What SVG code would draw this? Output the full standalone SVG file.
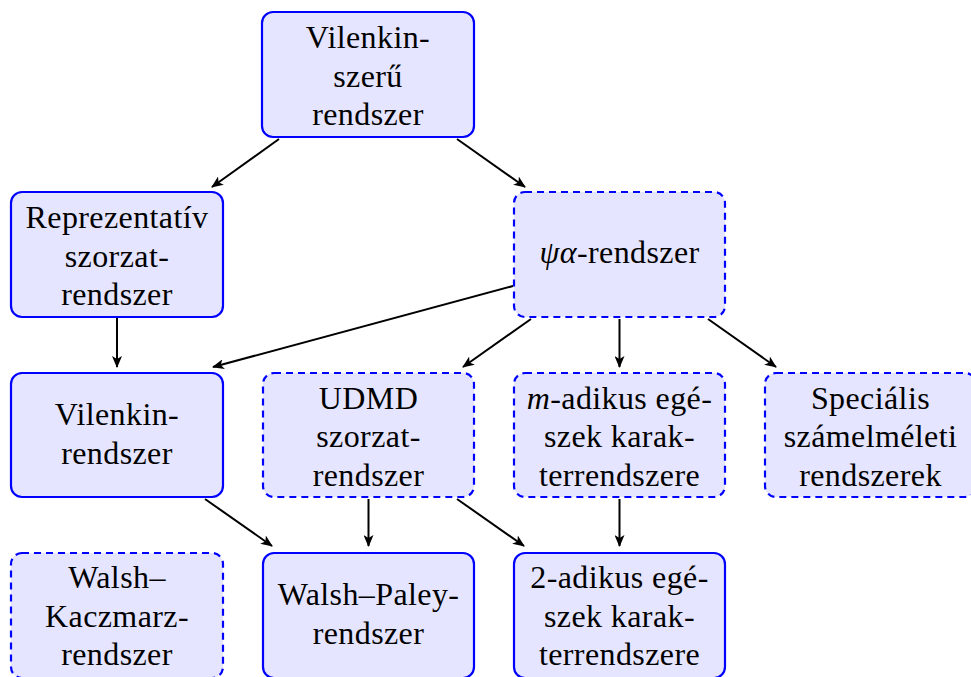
<svg xmlns="http://www.w3.org/2000/svg" width="971" height="677" viewBox="0 0 971 677">
<defs>
<marker id="ah" viewBox="0 0 12 10" refX="11" refY="5" markerWidth="12" markerHeight="10" markerUnits="userSpaceOnUse" orient="auto">
<path d="M0,0 L12,5 L0,10 L3,5 Z" fill="#000"/>
</marker>
<style>
.box{fill:#e5e5ff;stroke:#0000ff;stroke-width:2.2}
.dash{stroke-dasharray:7,5}
.t{font-family:"Liberation Serif","Times New Roman",serif;font-size:32px;letter-spacing:0.4px;fill:#000;text-anchor:middle}
.i{font-style:italic}
.e{stroke:#000;stroke-width:2;fill:none;marker-end:url(#ah)}
</style>
</defs>
<rect width="971" height="677" fill="#fff"/>
<g id="n-top">
<rect class="box" x="262" y="12" width="212" height="125" rx="11"/>
<text class="t" x="368" y="48">Vilenkin-</text>
<text class="t" x="368" y="86.5">szerű</text>
<text class="t" x="368" y="125">rendszer</text>
</g>
<g id="n-rep">
<rect class="box" x="11" y="192" width="212" height="125" rx="11"/>
<text class="t" x="117" y="228">Reprezentatív</text>
<text class="t" x="117" y="266.5">szorzat-</text>
<text class="t" x="117" y="305">rendszer</text>
</g>
<g id="n-psi">
<rect class="box dash" x="514" y="192" width="211" height="125" rx="11"/>
<text class="t" x="619.5" y="263"><tspan class="i">ψα</tspan>-rendszer</text>
</g>
<g id="n-vil">
<rect class="box" x="11" y="373" width="212" height="124" rx="11"/>
<text class="t" x="117" y="425">Vilenkin-</text>
<text class="t" x="117" y="464">rendszer</text>
</g>
<g id="n-udmd">
<rect class="box dash" x="263" y="373" width="211" height="124" rx="11"/>
<text class="t" x="368.5" y="408.5">UDMD</text>
<text class="t" x="368.5" y="447">szorzat-</text>
<text class="t" x="368.5" y="485.5">rendszer</text>
</g>
<g id="n-madik">
<rect class="box dash" x="514" y="373" width="211" height="124" rx="11"/>
<text class="t" x="619.5" y="408.5"><tspan class="i">m</tspan>-adikus egé-</text>
<text class="t" x="619.5" y="447">szek karak-</text>
<text class="t" x="619.5" y="485.5">terrendszere</text>
</g>
<g id="n-spec">
<rect class="box dash" x="765" y="373" width="211" height="124" rx="11"/>
<text class="t" x="870.5" y="408.5">Speciális</text>
<text class="t" x="870.5" y="447">számelméleti</text>
<text class="t" x="870.5" y="485.5">rendszerek</text>
</g>
<g id="n-wk">
<rect class="box dash" x="11" y="553" width="212" height="125" rx="11"/>
<text class="t" x="117" y="588">Walsh–</text>
<text class="t" x="117" y="626.5">Kaczmarz-</text>
<text class="t" x="117" y="665">rendszer</text>
</g>
<g id="n-wp">
<rect class="box" x="263" y="553" width="211" height="125" rx="11"/>
<text class="t" x="368.5" y="605">Walsh–Paley-</text>
<text class="t" x="368.5" y="644">rendszer</text>
</g>
<g id="n-2adik">
<rect class="box" x="514" y="553" width="211" height="125" rx="11"/>
<text class="t" x="619.5" y="588">2-adikus egé-</text>
<text class="t" x="619.5" y="626.5">szek karak-</text>
<text class="t" x="619.5" y="665">terrendszere</text>
</g>
<g id="edges">
<line class="e" x1="279" y1="139" x2="212" y2="187"/>
<line class="e" x1="457" y1="139" x2="525" y2="187"/>
<line class="e" x1="513" y1="286" x2="213" y2="367"/>
<line class="e" x1="531" y1="319" x2="463" y2="367"/>
<line class="e" x1="619.5" y1="319" x2="619.5" y2="367"/>
<line class="e" x1="708" y1="319" x2="776" y2="367"/>
<line class="e" x1="117" y1="318" x2="117" y2="367"/>
<line class="e" x1="205" y1="499" x2="272" y2="546"/>
<line class="e" x1="368.5" y1="499" x2="368.5" y2="546"/>
<line class="e" x1="457" y1="499" x2="524" y2="546"/>
<line class="e" x1="619.5" y1="499" x2="619.5" y2="546"/>
</g>
</svg>
